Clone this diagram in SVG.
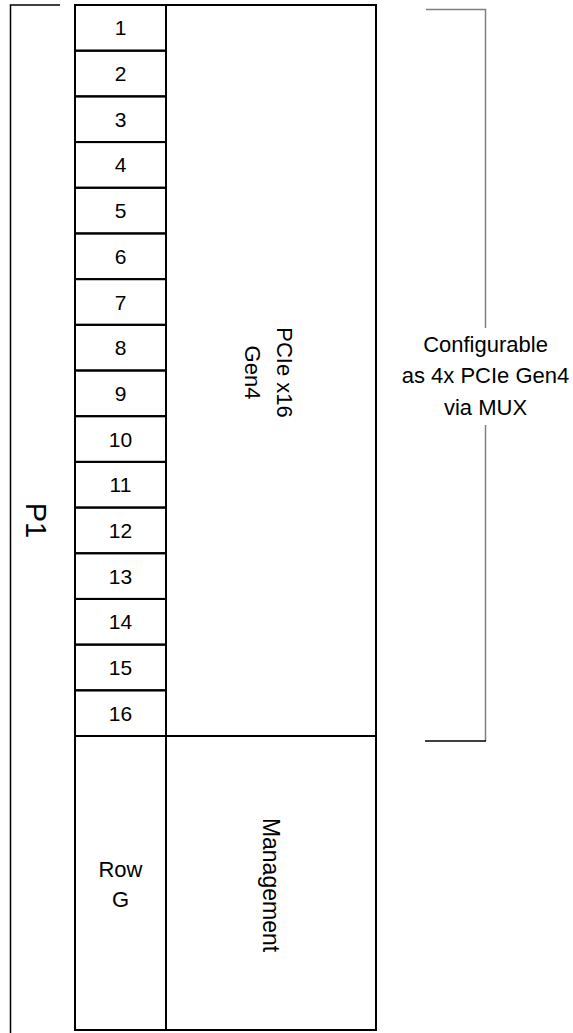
<svg xmlns="http://www.w3.org/2000/svg" width="573" height="1033" viewBox="0 0 573 1033">
<style>
.box{fill:none;stroke:#000;stroke-width:2}
.t{font-family:"Liberation Sans",Arial,sans-serif;font-size:22px;fill:#000;text-anchor:middle}
.d{font-size:21px}
.br{fill:none;stroke:#000;stroke-width:1.5}
.grey{fill:none;stroke:#7f7f7f;stroke-width:1.5}
</style>
<rect width="573" height="1033" fill="#fff"/>
<g id="brackets">
  <path class="br" d="M60,5 H10.5 V1033"/>
  <path class="grey" d="M426,9.5 H485.5 V328"/>
  <path class="grey" d="M485.5,425 V741"/>
  <path class="br" d="M425,741 H486"/>
</g>
<g id="p1">
  <text class="t" style="font-size:29px" x="26" y="520.5" transform="rotate(90 26 520.5)">P1</text>
</g>
<g id="lanes">
  <rect class="box" x="75" y="5" width="91" height="45.69"/>
  <text class="t d" x="120.5" y="35.3">1</text>
  <rect class="box" x="75" y="50.69" width="91" height="45.69"/>
  <text class="t d" x="120.5" y="81">2</text>
  <rect class="box" x="75" y="96.38" width="91" height="45.69"/>
  <text class="t d" x="120.5" y="126.7">3</text>
  <rect class="box" x="75" y="142.06" width="91" height="45.69"/>
  <text class="t d" x="120.5" y="172.4">4</text>
  <rect class="box" x="75" y="187.75" width="91" height="45.69"/>
  <text class="t d" x="120.5" y="218.1">5</text>
  <rect class="box" x="75" y="233.44" width="91" height="45.69"/>
  <text class="t d" x="120.5" y="263.8">6</text>
  <rect class="box" x="75" y="279.13" width="91" height="45.69"/>
  <text class="t d" x="120.5" y="309.5">7</text>
  <rect class="box" x="75" y="324.81" width="91" height="45.69"/>
  <text class="t d" x="120.5" y="355.2">8</text>
  <rect class="box" x="75" y="370.5" width="91" height="45.69"/>
  <text class="t d" x="120.5" y="400.8">9</text>
  <rect class="box" x="75" y="416.19" width="91" height="45.69"/>
  <text class="t d" x="120.5" y="446.5">10</text>
  <rect class="box" x="75" y="461.88" width="91" height="45.69"/>
  <text class="t d" x="120.5" y="492.2">11</text>
  <rect class="box" x="75" y="507.56" width="91" height="45.69"/>
  <text class="t d" x="120.5" y="537.9">12</text>
  <rect class="box" x="75" y="553.25" width="91" height="45.69"/>
  <text class="t d" x="120.5" y="583.6">13</text>
  <rect class="box" x="75" y="598.94" width="91" height="45.69"/>
  <text class="t d" x="120.5" y="629.3">14</text>
  <rect class="box" x="75" y="644.63" width="91" height="45.69"/>
  <text class="t d" x="120.5" y="675">15</text>
  <rect class="box" x="75" y="690.31" width="91" height="45.69"/>
  <text class="t d" x="120.5" y="720.7">16</text>
</g>
<g id="pcie">
  <rect class="box" x="166" y="5" width="210" height="731"/>
  <text class="t" x="277" y="372.5" transform="rotate(90 277 372.5)">PCIe x16</text>
  <text class="t" x="245" y="372.5" transform="rotate(90 245 372.5)">Gen4</text>
</g>
<g id="rowg">
  <rect class="box" x="75" y="736" width="91" height="294"/>
  <text class="t" x="120.5" y="877">Row</text>
  <text class="t" x="120.5" y="907">G</text>
</g>
<g id="management">
  <rect class="box" x="166" y="736" width="210" height="294"/>
  <text class="t" style="font-size:23px" x="263" y="885" transform="rotate(90 263 885)">Management</text>
</g>
<g id="note">
  <text class="t" x="485.5" y="352">Configurable</text>
  <text class="t" x="485.5" y="383">as 4x PCIe Gen4</text>
  <text class="t" x="485.5" y="415">via MUX</text>
</g>
</svg>
